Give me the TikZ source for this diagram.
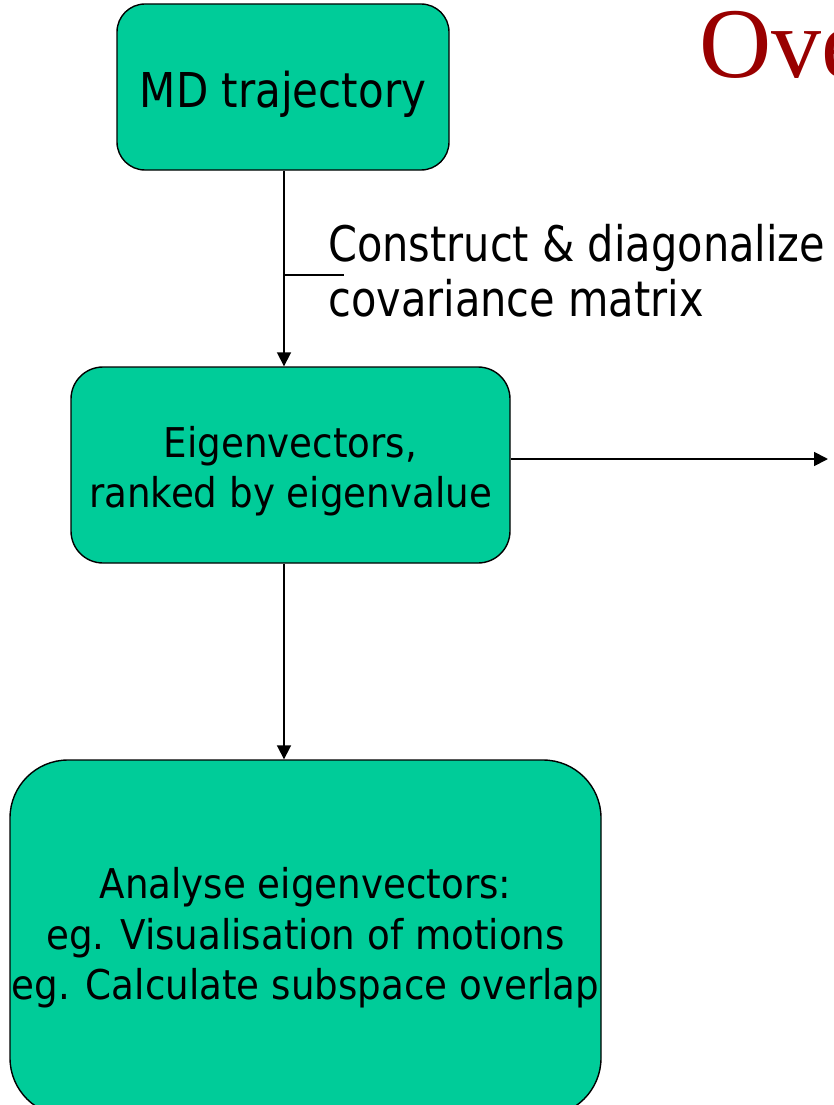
\documentclass[tikz,border=0pt]{standalone}
\usepackage{fontspec}
\setmainfont{DejaVu Sans}
\newfontfamily\fontmd{DejaVu Sans}[FakeStretch=0.875]
\newfontfamily\fontbox{DejaVu Sans}[FakeStretch=0.908]
\newfontfamily\fontlbl{DejaVu Sans}[FakeStretch=0.847]
\newfontfamily\titlefont{Liberation Serif}
\usetikzlibrary{arrows.meta}
\definecolor{boxgreen}{HTML}{00CC99}
\definecolor{titlered}{HTML}{990000}
\tikzset{
  flowbox/.style={draw=black, line width=1.4pt, fill=boxgreen, inner sep=0pt},
  boxtext/.style={inner sep=0pt, align=center, text=black},
  flowarrow/.style={line width=1.8pt, -{Triangle[length=14pt,width=14pt]}},
  leader/.style={line width=1.4pt},
}
\begin{document}
\lineskiplimit=-100pt\relax
\begin{tikzpicture}[x=1pt,y=-1pt]
\useasboundingbox (0,0) rectangle (833,1105);
\clip (0,0) rectangle (833,1105);
\node[text=titlered, font=\titlefont\fontsize{100}{110}\selectfont, anchor=base west, inner sep=0pt] (title) at (699,78) {Ove};
\node[flowbox, rounded corners=28pt, minimum width=332pt, minimum height=166pt,
  label={[boxtext, yshift=-7.1pt, font=\fontmd\fontsize{48}{50}\selectfont]center:MD trajectory}] (md) at (283,87) {};
\node[flowbox, rounded corners=32pt, minimum width=439pt, minimum height=196pt,
  label={[boxtext, yshift=-5.9pt, font=\fontbox\fontsize{41}{50}\selectfont]center:{Eigenvectors,\\ranked by eigenvalue}}] (eig) at (290.5,465) {};
\node[flowbox, rounded corners=58pt, minimum width=591pt, minimum height=356pt,
  label={[boxtext, yshift=0pt, font=\fontbox\fontsize{41}{50.5}\selectfont]center:{Analyse eigenvectors:\\eg. Visualisation of motions\\eg. Calculate subspace overlap}}] (ana) at (305.5,938) {};
\node[anchor=north west, inner sep=0pt, align=left, font=\fontlbl\fontsize{49}{55}\selectfont] (lbl) at (328,224.5) {Construct \& diagonalize\\covariance matrix};
\coordinate (lk) at (344,275);
\coordinate (rend) at (828,459);
\draw[flowarrow] (md.south -| 284,0) -- (eig.north -| 284,0);
\draw[leader] (lk -| 284,0) -- (lk);
\draw[flowarrow] (eig.east |- rend) -- (rend);
\draw[flowarrow] (eig.south -| 284,0) -- (ana.north -| 284,0);
\end{tikzpicture}
\end{document}
